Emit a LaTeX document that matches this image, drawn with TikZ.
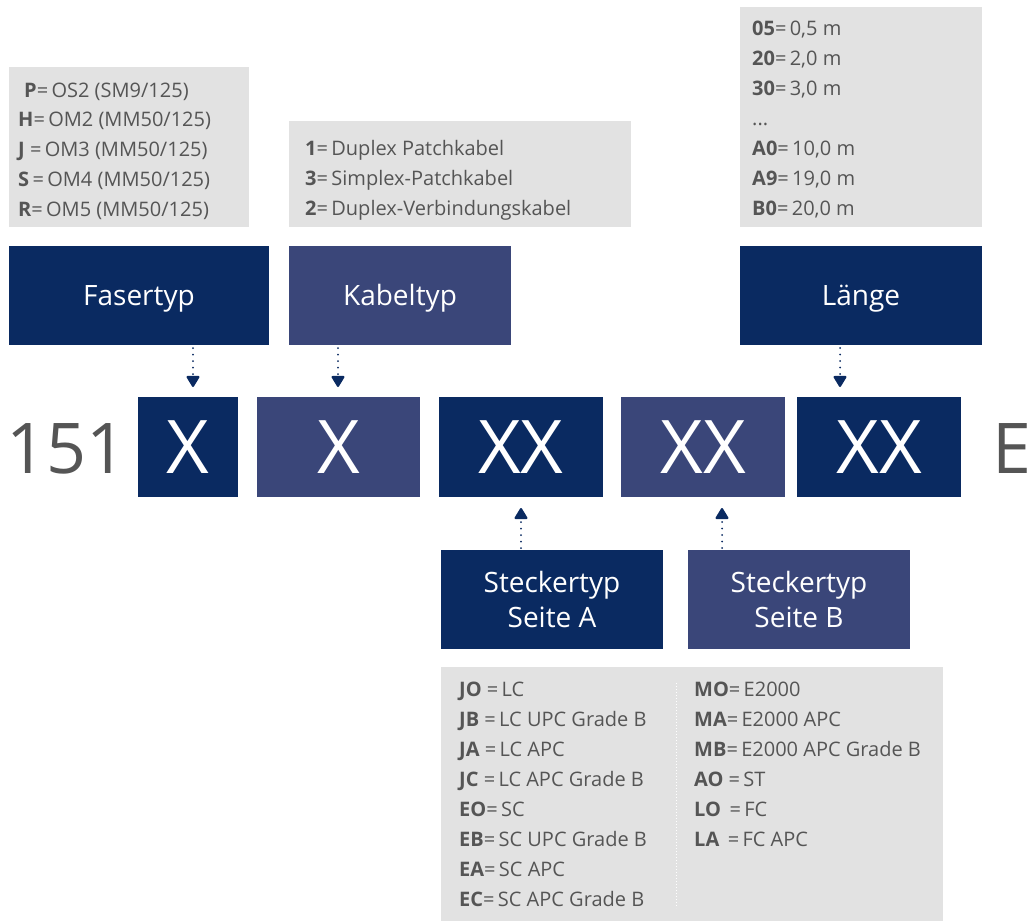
\documentclass[tikz,border=0pt]{standalone}
\usepackage{fontspec}
\setmainfont{Open Sans}
\usetikzlibrary{arrows.meta}
\definecolor{dblue}{HTML}{0A2A61}
\definecolor{lblue}{HTML}{3A4679}
\definecolor{lgray}{HTML}{E2E2E2}
\definecolor{tgray}{HTML}{555555}
\newcommand{\eq}{=\,}
\begin{document}
\begin{tikzpicture}[x=1pt,y=-1pt,
  blk/.style={inner sep=0pt,outer sep=0pt,text=white,font=\fontsize{28}{35}\selectfont},
  dk/.style={blk,fill=dblue},
  lt/.style={blk,fill=lblue},
  oneline/.style={text height=20pt,text depth=0pt},
  twoline/.style={align=center},
  code/.style={inner sep=0pt,outer sep=0pt,text=white,font=\fontsize{74}{74}\selectfont},
  grayb/.style={fill=lgray,inner sep=0pt,outer sep=0pt},
  li/.style={anchor=base west,inner sep=0pt,text=tgray,font=\fontsize{20}{22}\selectfont},
  big/.style={inner sep=0pt,text=tgray,font=\fontsize{70}{70}\selectfont},
  dotarrow/.style={draw=dblue,line width=2pt,dash pattern=on 0pt off 6.5pt,line cap=round,
     -{Triangle[width=14pt,length=12pt,line cap=butt,round=false,fill=dblue]}},
]
\useasboundingbox (0,0) rectangle (1027,921);
\clip (0,0) rectangle (1027,921);

% gray boxes
\node[grayb,minimum width=240pt,minimum height=160pt] (g1) at (129,147) {};
\node[grayb,minimum width=342pt,minimum height=106pt] (g2) at (460,174) {};
\node[grayb,minimum width=242pt,minimum height=220pt] (g3) at (861,117) {};
\node[grayb,minimum width=502pt,minimum height=254pt] (g4) at (692,794) {};
\coordinate (sepT) at (676,683);
\coordinate (sepB) at (676,908);
\draw[white,line width=0.8pt,dash pattern=on 1pt off 2pt] (sepT) -- (sepB);

% list 1
\node[li] (p1) at (24,97) {\textbf{P}\eq OS2 (SM9/125)};
\node[li] (p2) at (18,126) {\textbf{H}\eq OM2 (MM50/125)};
\node[li] (p3) at (18,156) {\textbf{J} \eq OM3 (MM50/125)};
\node[li] (p4) at (18,186) {\textbf{S}\,\eq OM4 (MM50/125)};
\node[li] (p5) at (18,216) {\textbf{R}\eq OM5 (MM50/125)};

% list 2
\node[li] (k1) at (305,155) {\textbf{1}\eq Duplex Patchkabel};
\node[li] (k2) at (305,185) {\textbf{3}\eq Simplex-Patchkabel};
\node[li] (k3) at (305,215) {\textbf{2}\eq Duplex-Verbindungskabel};

% list 3
\node[li] (l1) at (752,35) {\textbf{05}\eq 0,5 m};
\node[li] (l2) at (752,65) {\textbf{20}\eq 2,0 m};
\node[li] (l3) at (752,95) {\textbf{30}\eq 3,0 m};
\node[li] (l4) at (752,125) {...};
\node[li] (l5) at (752,155) {\textbf{A0}\eq 10,0 m};
\node[li] (l6) at (752,185) {\textbf{A9}\eq 19,0 m};
\node[li] (l7) at (752,215) {\textbf{B0}\eq 20,0 m};

% bottom list col 1
\node[li] (a1) at (459,696) {\textbf{JO} \eq LC};
\node[li] (a2) at (459,726) {\textbf{JB} \eq LC UPC Grade B};
\node[li] (a3) at (459,756) {\textbf{JA} \eq LC APC};
\node[li] (a4) at (459,786) {\textbf{JC} \eq LC APC Grade B};
\node[li] (a5) at (459,816) {\textbf{EO}\eq SC};
\node[li] (a6) at (459,846) {\textbf{EB}\eq SC UPC Grade B};
\node[li] (a7) at (459,876) {\textbf{EA}\eq SC APC};
\node[li] (a8) at (459,906) {\textbf{EC}\eq SC APC Grade B};
% col 2
\node[li] (b1) at (694,696) {\textbf{MO}\eq E2000};
\node[li] (b2) at (694,726) {\textbf{MA}\eq E2000 APC};
\node[li] (b3) at (694,756) {\textbf{MB}\eq E2000 APC Grade B};
\node[li] (b4) at (694,786) {\textbf{AO} \eq ST};
\node[li] (b5) at (694,816) {\textbf{LO} \,\eq FC};
\node[li] (b6) at (694,846) {\textbf{LA} \,\eq FC APC};

% label boxes
\node[dk,oneline,minimum width=260pt,minimum height=99pt] (fas) at (139,295.5) {Fasertyp};
\node[lt,oneline,minimum width=222pt,minimum height=99pt] (kab) at (400,295.5) {Kabeltyp};
\node[dk,oneline,minimum width=242pt,minimum height=99pt] (len) at (861,295.5) {Länge};
\node[dk,twoline,minimum width=222pt,minimum height=99pt] (sta) at (552,599) {Steckertyp\\Seite A};
\node[lt,twoline,minimum width=222pt,minimum height=99pt] (stb) at (799,599) {Steckertyp\\Seite B};

% code boxes
\node[code,fill=dblue,minimum width=100pt,minimum height=100pt] (c1) at (188,447) {X};
\node[code,fill=lblue,minimum width=163pt,minimum height=100pt] (c2) at (338.5,447) {X};
\node[code,fill=dblue,minimum width=164pt,minimum height=100pt] (c3) at (521,447) {XX};
\node[code,fill=lblue,minimum width=164pt,minimum height=100pt] (c4) at (703,447) {XX};
\node[code,fill=dblue,minimum width=164pt,minimum height=100pt] (c5) at (879,447) {XX};

\node[big,anchor=east] (pre) at (127,449) {151};
\node[big,anchor=west] (suf) at (992,449) {E};

% connector end points
\coordinate (f0) at (193,345);  \coordinate (f1) at (193,397);
\coordinate (k0) at (338,345);  \coordinate (k1e) at (338,397);
\coordinate (n0) at (840,345);  \coordinate (n1) at (840,397);
\coordinate (s0) at (521,550);  \coordinate (s1) at (521,497);
\coordinate (t0) at (722,550);  \coordinate (t1) at (722,497);

% arrows
\draw[dotarrow,shorten <=3pt,shorten >=10pt] (f0) -- (f1);
\draw[dotarrow,shorten <=3pt,shorten >=10pt] (k0) -- (k1e);
\draw[dotarrow,shorten <=3pt,shorten >=10pt] (n0) -- (n1);
\draw[dotarrow,shorten <=2pt,shorten >=11pt] (s0) -- (s1);
\draw[dotarrow,shorten <=2pt,shorten >=11pt] (t0) -- (t1);
\end{tikzpicture}
\end{document}
